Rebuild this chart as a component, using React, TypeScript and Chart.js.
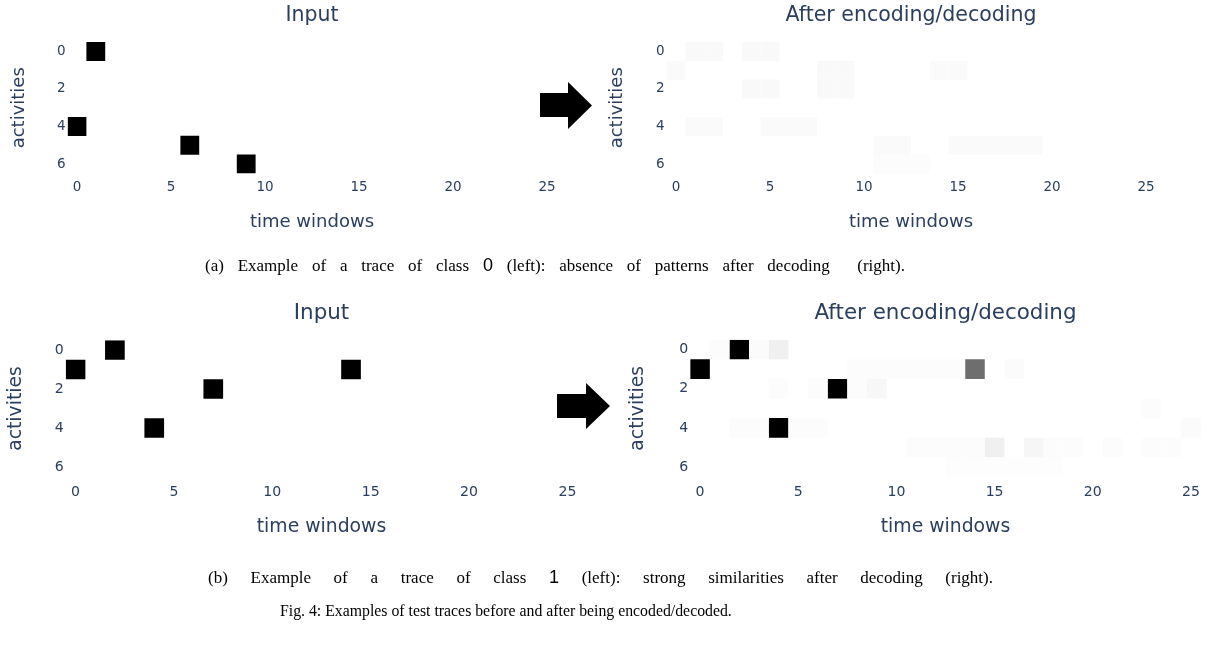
import React, { useEffect, useRef } from 'react';
import { Chart, registerables } from 'chart.js';

Chart.register(...registerables);

// ---------- data ----------
const xTickLabels = [0, 5, 10, 15, 20, 25];
const yTickLabels = [0, 2, 4, 6];
const timeRange = [-0.5, 25.5];
const activityRange = [-0.5, 6.5];

// (a) class 0 trace: input
const inputA_time = [1, 0, 6, 9];
const inputA_activity = [0, 4, 5, 6];
const inputA_value = [1, 1, 1, 1];

// (a) class 0 trace: after encoding/decoding (almost nothing left)
const decodedA_time = [1, 2, 4, 5, 0, 8, 9, 14, 15, 4, 5, 8, 9, 1, 2, 5, 6, 7, 11, 12, 15, 16, 17, 18, 19, 11, 12, 13];
const decodedA_activity = [0, 0, 0, 0, 1, 1, 1, 1, 1, 2, 2, 2, 2, 4, 4, 4, 4, 4, 5, 5, 5, 5, 5, 5, 5, 6, 6, 6];
const decodedA_value = [0.025, 0.025, 0.025, 0.025, 0.02, 0.025, 0.025, 0.02, 0.02, 0.025, 0.025, 0.025, 0.025, 0.02, 0.02, 0.02, 0.02, 0.02, 0.018, 0.018, 0.018, 0.018, 0.018, 0.018, 0.018, 0.012, 0.012, 0.012];

// (b) class 1 trace: input
const inputB_time = [2, 0, 14, 7, 4];
const inputB_activity = [0, 1, 1, 2, 4];
const inputB_value = [1, 1, 1, 1, 1];

// (b) class 1 trace: after encoding/decoding
const decodedB_time = [2, 0, 7, 4, 14, 4, 15, 17, 9, 1, 3, 8, 9, 10, 11, 12, 13, 16, 4, 6, 8, 23, 2, 3, 5, 6, 25, 11, 12, 13, 14, 18, 19, 21, 23, 24, 13, 14, 15, 16, 17, 18];
const decodedB_activity = [0, 1, 2, 4, 1, 0, 5, 5, 2, 0, 0, 1, 1, 1, 1, 1, 1, 1, 2, 2, 2, 3, 4, 4, 4, 4, 4, 5, 5, 5, 5, 5, 5, 5, 5, 5, 6, 6, 6, 6, 6, 6];
const decodedB_value = [1, 1, 1, 1, 0.57, 0.06, 0.06, 0.035, 0.03, 0.012, 0.015, 0.01, 0.01, 0.01, 0.01, 0.01, 0.01, 0.015, 0.012, 0.012, 0.01, 0.012, 0.01, 0.01, 0.012, 0.01, 0.015, 0.01, 0.01, 0.01, 0.01, 0.012, 0.012, 0.012, 0.012, 0.012, 0.008, 0.008, 0.008, 0.008, 0.008, 0.008];

const panelTitles = ['Input', 'After encoding/decoding', 'Input', 'After encoding/decoding'];
const xAxisTitle = 'time windows';
const yAxisTitle = 'activities';

// ---------- layout (not data) ----------
const TEXT = '#2a3f5f';
const FONT = "'DejaVu Sans', Verdana, sans-serif";

type PanelSpec = {
  title: string;
  t: number[]; a: number[]; v: number[];
  area: { l: number; r: number; t: number; b: number };
  ct: number; titleMidY: number; yTitleX: number; xTitleY: number; tickMidY: number; k: number;
};

const panels: PanelSpec[] = [
  { title: panelTitles[0], t: inputA_time, a: inputA_activity, v: inputA_value,
    area: { l: 67.6, r: 556.4, t: 42.1, b: 173.4 }, ct: 0, titleMidY: 15.4, yTitleX: 19, xTitleY: 222.5, tickMidY: 187, k: 1 },
  { title: panelTitles[1], t: decodedA_time, a: decodedA_activity, v: decodedA_value,
    area: { l: 666.6, r: 1155.4, t: 42.1, b: 173.4 }, ct: 0, titleMidY: 15.4, yTitleX: 617.5, xTitleY: 222.5, tickMidY: 187, k: 1 },
  { title: panelTitles[2], t: inputB_time, a: inputB_activity, v: inputB_value,
    area: { l: 65.7, r: 577.3, t: 340.25, b: 476.75 }, ct: 290, titleMidY: 313.7, yTitleX: 16.5, xTitleY: 527, tickMidY: 492, k: 1.045 },
  { title: panelTitles[3], t: decodedB_time, a: decodedB_activity, v: decodedB_value,
    area: { l: 690.2, r: 1200.8, t: 339.7, b: 476.9 }, ct: 290, titleMidY: 313.7, yTitleX: 638, xTitleY: 527, tickMidY: 492, k: 1.045 },
];

function grey(v: number) {
  const g = Math.round(255 * (1 - v));
  return `rgb(${g},${g},${g})`;
}

function HeatPanel({ spec }: { spec: PanelSpec }) {
  const ref = useRef<HTMLCanvasElement>(null);
  const { area, ct, k } = spec;
  const cl = Math.floor(area.l - 68);
  const yAxisW = area.l - cl;
  const W = Math.ceil(area.r - cl + 12);
  const padRight = W - (area.r - cl);
  const H = Math.ceil(area.b - ct + 75);
  const xAxisH = H - (area.b - ct);

  useEffect(() => {
    const titleSize = 20.5 * k;
    const axisSize = 18 * k;
    const tickSize = 13.5 * k;
    const lhT = titleSize * 1.2;
    const lhA = axisSize * 1.2;
    const lhK = tickSize * 1.2;
    const titlePadTop = spec.titleMidY - ct - lhT / 2;
    const titlePadBottom = area.t - ct - titlePadTop - lhT;
    const xTitlePadBottom = ct + H - spec.xTitleY - lhA / 2;
    const yTitlePadTop = spec.yTitleX - cl - lhA / 2;
    const xTickPad = spec.tickMidY - area.b - lhK / 2;

    const points = spec.t.map((t, i) => ({ x: t, y: spec.a[i], v: spec.v[i] }));
    const cellRadius = (ctx: any) => {
      const sc = ctx.chart.scales.x;
      return Math.abs(sc.getPixelForValue(1) - sc.getPixelForValue(0)) / Math.SQRT2;
    };

    const chart = new Chart(ref.current as HTMLCanvasElement, {
      type: 'scatter',
      data: {
        datasets: [{
          data: points as any,
          pointStyle: 'rect',
          pointRadius: cellRadius,
          pointHoverRadius: cellRadius,
          pointBorderWidth: 0,
          pointBackgroundColor: (ctx: any) => grey(ctx.raw ? ctx.raw.v : 0),
          pointBorderColor: 'rgba(0,0,0,0)',
        }],
      },
      options: {
        responsive: false,
        animation: false,
        events: [],
        layout: { padding: { left: 0, top: 0, right: padRight, bottom: 0 } },
        plugins: {
          legend: { display: false },
          tooltip: { enabled: false },
          title: {
            display: true,
            text: spec.title,
            fullSize: false,
            color: TEXT,
            font: { family: FONT, size: titleSize, weight: 'normal', lineHeight: 1.2 },
            padding: { top: titlePadTop, bottom: titlePadBottom },
          },
        },
        scales: {
          x: {
            type: 'linear',
            min: timeRange[0],
            max: timeRange[1],
            afterBuildTicks: (axis: any) => { axis.ticks = xTickLabels.map((v) => ({ value: v })); },
            afterFit: (sc: any) => { sc.height = xAxisH; },
            grid: { display: false, drawTicks: false },
            border: { display: false },
            ticks: { autoSkip: false, maxRotation: 0, padding: xTickPad, color: TEXT,
              font: { family: FONT, size: tickSize, lineHeight: 1.2 } },
            title: { display: true, text: xAxisTitle, color: TEXT,
              font: { family: FONT, size: axisSize, lineHeight: 1.2 },
              padding: { top: 0, bottom: xTitlePadBottom } },
          },
          y: {
            type: 'linear',
            reverse: true,
            min: activityRange[0],
            max: activityRange[1],
            afterBuildTicks: (axis: any) => { axis.ticks = yTickLabels.map((v) => ({ value: v })); },
            afterFit: (sc: any) => { sc.width = yAxisW; },
            grid: { display: false, drawTicks: false },
            border: { display: false },
            ticks: { autoSkip: false, padding: 2, color: TEXT,
              font: { family: FONT, size: tickSize, lineHeight: 1.2 } },
            title: { display: true, text: yAxisTitle, color: TEXT,
              font: { family: FONT, size: axisSize, lineHeight: 1.2 },
              padding: { top: yTitlePadTop, bottom: 0 } },
          },
        },
      } as any,
    });
    return () => chart.destroy();
  }, []);

  return (
    <canvas
      ref={ref}
      width={W}
      height={H}
      style={{ position: 'absolute', left: cl, top: ct, width: W, height: H }}
    />
  );
}

const capStyle: React.CSSProperties = {
  position: 'absolute',
  fontFamily: "'Liberation Serif', 'Times New Roman', serif",
  fontSize: 17,
  lineHeight: '17px',
  color: '#000',
  textAlign: 'justify',
  textAlignLast: 'justify' as any,
  whiteSpace: 'normal',
};
const numStyle: React.CSSProperties = { fontFamily: "'Liberation Sans', Arial, sans-serif", fontSize: 18 };

export default function App() {
  return (
    <div style={{ position: 'absolute', left: 0, top: 0, width: 1211, height: 648, overflow: 'hidden', background: '#fff' }}>
      {panels.map((p, i) => <HeatPanel key={i} spec={p} />)}
      <svg width={1211} height={648} style={{ position: 'absolute', left: 0, top: 0, pointerEvents: 'none' }}>
        <polygon points="540,93 568,93 568,82 592,105.5 568,129 568,117 540,117" fill="#000" />
        <polygon points="557,394 586,394 586,383 610,406 586,429 586,418 557,418" fill="#000" />
      </svg>
      <div style={{ ...capStyle, left: 205, top: 257, width: 700 }}>
        (a) Example of a trace of class <span style={numStyle}>0</span> (left): absence of patterns after decoding&nbsp; (right).
      </div>
      <div style={{ ...capStyle, left: 208, top: 569, width: 785 }}>
        (b) Example of a trace of class <span style={numStyle}>1</span> (left): strong similarities after decoding (right).
      </div>
      <div style={{ ...capStyle, left: 280, top: 602, fontSize: 15.8, textAlign: 'left', textAlignLast: 'left' as any, whiteSpace: 'nowrap' }}>
        Fig. 4: Examples of test traces before and after being encoded/decoded.
      </div>
    </div>
  );
}
